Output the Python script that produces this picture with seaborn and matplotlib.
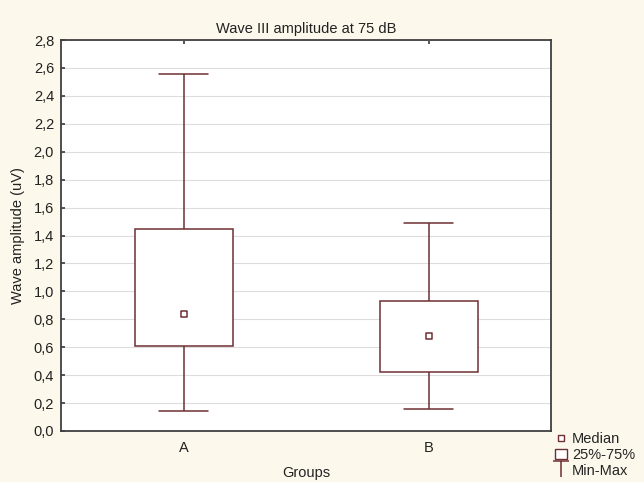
import matplotlib
matplotlib.use("Agg")
import matplotlib.pyplot as plt
import pandas as pd
import seaborn as sns
from matplotlib.lines import Line2D
from matplotlib.patches import Patch
from matplotlib.path import Path
from matplotlib.ticker import FuncFormatter, MultipleLocator

groups = ["A", "B"]
mins = [0.14, 0.16]
q1s = [0.61, 0.42]
medians = [0.84, 0.68]
q3s = [1.45, 0.93]
maxs = [2.56, 1.49]

# five values per group give exactly these quartiles with linear percentiles
rows = []
for g, a, b, c, d, e in zip(groups, mins, q1s, medians, q3s, maxs):
    for v in (a, b, c, d, e):
        rows.append({"Groups": g, "amp": v})
df = pd.DataFrame(rows)

box_col = "#6e2f33"
bg = "#fdf8ec"
txt = "#222222"

sns.set_theme(style="white")
plt.rcParams["font.family"] = ["Liberation Sans", "DejaVu Sans"]

fig = plt.figure(figsize=(6.44, 4.82), dpi=100, facecolor=bg)
ax = fig.add_axes([61 / 644, 1 - 431 / 482, 490 / 644, 391 / 482])
ax.set_facecolor("white")

sns.boxplot(
    data=df, x="Groups", y="amp", ax=ax, whis=(0, 100), width=0.4,
    color="white", linecolor=box_col, linewidth=1.1,
    medianprops={"visible": False}, showfliers=False,
    capprops={"color": box_col}, whiskerprops={"color": box_col},
)
# cap width
for line in ax.lines:
    xd = line.get_xdata()
    if len(xd) == 2 and xd[0] != xd[1] and line.get_ydata()[0] == line.get_ydata()[1]:
        mid = (xd[0] + xd[1]) / 2
        line.set_xdata([mid - 0.1, mid + 0.1])

ax.scatter(range(len(groups)), medians, marker="s", s=22, facecolor="white",
           edgecolor=box_col, linewidth=1.1, zorder=5)

ax.set_xlim(-0.5, 1.5)
ax.set_ylim(0, 2.8)
ax.yaxis.set_major_locator(MultipleLocator(0.2))
ax.yaxis.set_major_formatter(FuncFormatter(lambda v, p: f"{v:.1f}".replace(".", ",")))
ax.grid(axis="y", color="#dddddd", linewidth=0.8)
ax.set_axisbelow(True)
for s in ax.spines.values():
    s.set_color("#404040")
    s.set_linewidth(1.3)
ax.tick_params(axis="both", direction="in", length=3, color="#404040",
               labelsize=10.5, labelcolor=txt, pad=5)
ax.tick_params(axis="x", top=True, pad=7)
ax.tick_params(axis="y", left=True)

ax.set_title("Wave III amplitude at 75 dB", fontsize=10.5, color=txt, pad=5)
ax.set_xlabel("Groups", fontsize=10.5, color=txt, labelpad=8)
ax.set_ylabel("Wave amplitude (uV)", fontsize=10.5, color=txt, labelpad=6)

tee = Path([(-1, 1), (1, 1), (0, 1), (0, -1)],
           [Path.MOVETO, Path.LINETO, Path.MOVETO, Path.LINETO])
handles = [
    Line2D([], [], linestyle="none", marker="s", markersize=5,
           markerfacecolor="white", markeredgecolor=box_col, markeredgewidth=1),
    Patch(facecolor="white", edgecolor=box_col, linewidth=1),
    Line2D([], [], linestyle="none", marker=tee, markersize=11,
           markerfacecolor="none", markeredgecolor=box_col, markeredgewidth=1.1),
]
fig.legend(handles, ["Median", "25%-75%", "Min-Max"], loc="lower left",
           bbox_to_anchor=(545 / 644, -0.012), frameon=False, fontsize=10.5,
           handlelength=0.8, handletextpad=0.35, labelspacing=0.12,
           borderpad=0.2)

fig.savefig("out.png", dpi=100, facecolor=bg)
